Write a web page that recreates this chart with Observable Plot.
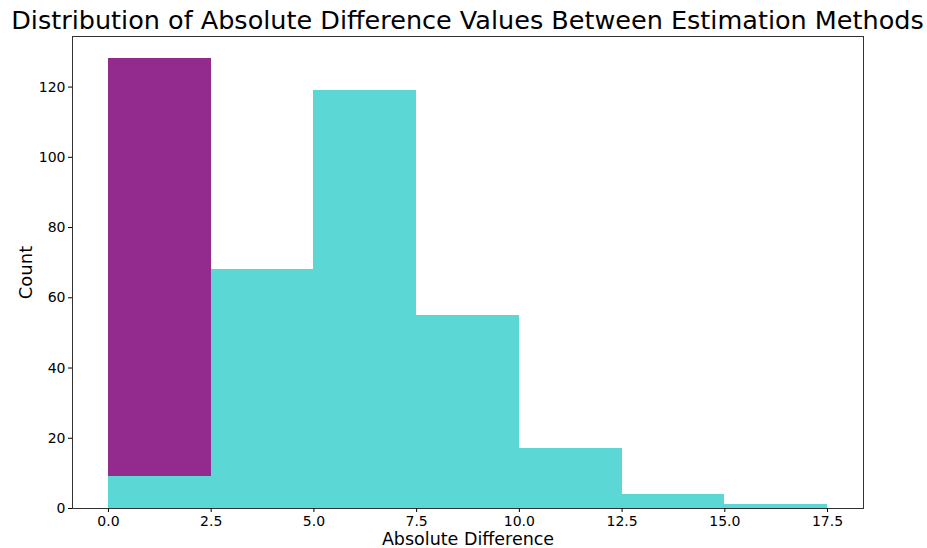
<!DOCTYPE html>
<html>
<head>
<meta charset="utf-8">
<script src="https://cdn.jsdelivr.net/npm/d3@7"></script>
<script src="https://cdn.jsdelivr.net/npm/@observablehq/plot@0.6"></script>
<style>
  html, body { margin: 0; background: #fff; font-family: "DejaVu Sans", sans-serif; overflow: hidden; }
  #wrap { position: relative; width: 927px; height: 548px; }
  #title { position: absolute; left: 0; top: 0; width: 935px; height: 30px; text-align: center; font-size: 25.5px; line-height: 41px; color: #000; white-space: nowrap; }
  #chart { position: absolute; left: 0; top: 30px; }
</style>
</head>
<body>
<div id="wrap">
<div id="title">Distribution of Absolute Difference Values Between Estimation Methods</div>
<div id="chart"></div>
</div>
<script>
const binStarts = [0, 2.5, 5, 7.5, 10, 12.5, 15];
const binWidth = 2.5;
const purpleCounts = [128, 0, 0, 0, 0, 0, 0];
const tealCounts = [9, 68, 119, 55, 17, 4, 1];
const xTicks = [0, 2.5, 5, 7.5, 10, 12.5, 15, 17.5];
const yTicks = [0, 20, 40, 60, 80, 100, 120];

const purpleData = binStarts.map((s, i) => ({x1: s, x2: s + binWidth, y: purpleCounts[i]})).filter(d => d.y > 0);
const tealData = binStarts.map((s, i) => ({x1: s, x2: s + binWidth, y: tealCounts[i]})).filter(d => d.y > 0);

const chart = Plot.plot({
  width: 927,
  height: 518,
  marginTop: 6,
  marginBottom: 40,
  marginLeft: 72,
  marginRight: 64,
  style: {fontFamily: "DejaVu Sans, sans-serif", fontSize: "14px", color: "#000", background: "#fff"},
  x: {domain: [-0.875, 18.375]},
  y: {domain: [0, 134.4]},
  marks: [
    Plot.rectY(purpleData, {x1: "x1", x2: "x2", y: "y", fill: "#932a8e", inset: 0, shapeRendering: "crispEdges"}),
    Plot.rectY(tealData, {x1: "x1", x2: "x2", y: "y", fill: "#5bd8d6", inset: 0, shapeRendering: "crispEdges"}),
    Plot.frame({stroke: "#333", strokeWidth: 1}),
    Plot.axisX({ticks: xTicks, tickFormat: d => d.toFixed(1), tickSize: 4, tickPadding: 4, fontSize: 14, label: null}),
    Plot.axisY({ticks: yTicks, tickFormat: d => String(d), tickSize: 4, tickPadding: 3, fontSize: 14, label: null}),
    Plot.text(["Absolute Difference"], {frameAnchor: "bottom", lineAnchor: "middle", textAnchor: "middle", dy: 31, fontSize: 17.5, fill: "#000"}),
    Plot.text(["Count"], {frameAnchor: "left", lineAnchor: "middle", textAnchor: "middle", dx: -46, rotate: -90, fontSize: 18, fill: "#000"})
  ]
});
document.getElementById("chart").appendChild(chart);
</script>
</body>
</html>
